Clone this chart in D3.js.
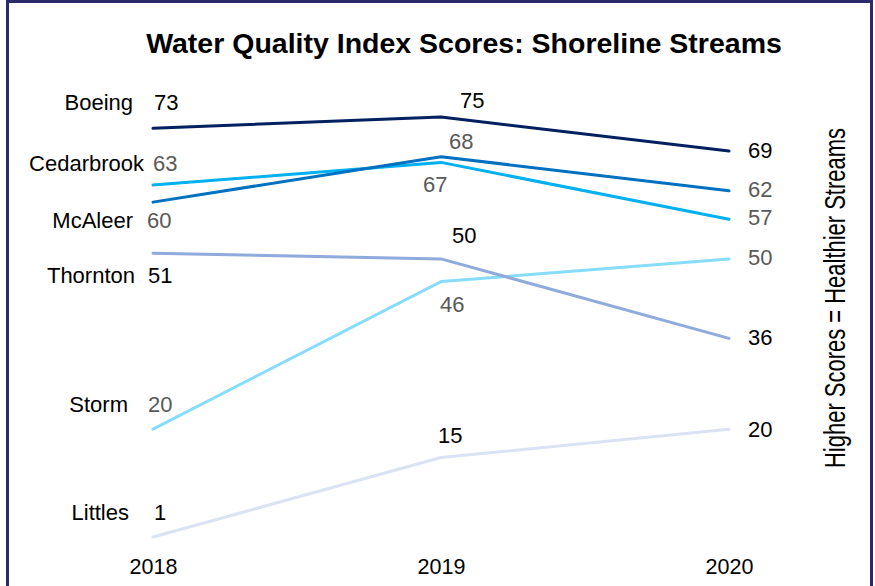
<!DOCTYPE html>
<html>
<head>
<meta charset="utf-8">
<script src="https://cdn.jsdelivr.net/npm/d3@7"></script>
<style>
  body { margin: 0; background: #fff; }
  svg text { font-family: "Liberation Sans", Arial, sans-serif; }
</style>
</head>
<body>
<div id="chart"></div>
<script>
// chart data
var years = ["2018", "2019", "2020"];
var streams = ["Boeing", "Cedarbrook", "McAleer", "Thornton", "Storm", "Littles"];
var boeing = [73, 75, 69];
var cedarbrook = [63, 67, 57];
var mcaleer = [60, 68, 62];
var thornton = [51, 50, 36];
var storm = [20, 46, 50];
var littles = [1, 15, 20];
var seriesValues = [boeing, cedarbrook, mcaleer, thornton, storm, littles];

// styling / label layout (offsets of value labels from their point)
var colors = ["#002060", "#00b0f0", "#0070c0", "#8faadc", "#87dcfc", "#dae3f3"];
var labelColors = [
  ["#000", "#000", "#000"],
  ["#595959", "#595959", "#595959"],
  ["#595959", "#595959", "#595959"],
  ["#000", "#000", "#000"],
  ["#595959", "#595959", "#595959"],
  ["#000", "#000", "#000"]
];
var labelOffsets = [
  [[1, -18], [19, -9], [19, 7]],
  [[0, -14], [-18, 30], [19, 6]],
  [[-6, 26], [8, -8], [19, 6]],
  [[-5, 30], [11, -16], [19, 7]],
  [[-5, -17], [-1, 30], [19, 6]],
  [[1, -17], [-3, -15], [19, 8]]
];
// right edge of each stream name
var nameEnds = [133, 144, 133, 135, 128, 129];

var svgWidth = 875;
var svgHeight = 586;

var svg = d3.select("#chart")
    .append("svg")
    .attr("width", svgWidth)
    .attr("height", svgHeight);

// frame
svg.append("rect")
    .attr("x", 7.5)
    .attr("y", 1.5)
    .attr("width", 864)
    .attr("height", 620)
    .attr("fill", "none")
    .attr("stroke", "#2b2a6c")
    .attr("stroke-width", 3);

// title
svg.append("text")
    .attr("x", 464)
    .attr("y", 53)
    .attr("text-anchor", "middle")
    .attr("font-size", "28.5px")
    .attr("font-weight", "bold")
    .attr("fill", "#000")
    .text("Water Quality Index Scores: Shoreline Streams");

// scales
var xScale = d3.scalePoint()
    .domain(years)
    .range([153, 729]);

var yScale = d3.scaleLinear()
    .domain([0, 80])
    .range([542.7, 88.6]);

// x axis (labels only)
var xAxis = d3.axisBottom(xScale).tickSize(0).tickPadding(0);
var xAxisG = svg.append("g")
    .attr("transform", "translate(0, 558)")
    .call(xAxis);
xAxisG.select(".domain").remove();
xAxisG.selectAll("text")
    .attr("font-size", "21.5px")
    .attr("font-family", "Liberation Sans, Arial, sans-serif")
    .attr("fill", "#000")
    .attr("dy", "0.76em");

var line = d3.line()
    .x(function(d, i) { return xScale(years[i]); })
    .y(function(d) { return yScale(d); });

// lines, drawn bottom-up so darker ones sit on top
var order = [5, 4, 3, 1, 2, 0];
order.forEach(function(s) {
    svg.append("path")
        .datum(seriesValues[s])
        .attr("d", line)
        .attr("fill", "none")
        .attr("stroke", colors[s])
        .attr("stroke-width", 3)
        .attr("stroke-linecap", "round")
        .attr("stroke-linejoin", "round");
});

// value labels
seriesValues.forEach(function(vals, s) {
    svg.selectAll(null)
        .data(vals)
        .enter()
        .append("text")
        .attr("x", function(d, i) { return xScale(years[i]) + labelOffsets[s][i][0]; })
        .attr("y", function(d, i) { return yScale(d) + labelOffsets[s][i][1]; })
        .attr("font-size", "22px")
        .attr("fill", function(d, i) { return labelColors[s][i]; })
        .text(function(d) { return d; });

    // stream name to the left of first value
    svg.append("text")
        .attr("x", nameEnds[s])
        .attr("y", yScale(vals[0]) + labelOffsets[s][0][1])
        .attr("text-anchor", "end")
        .attr("font-size", "22px")
        .attr("fill", "#000")
        .text(streams[s]);
});

// right side axis title
svg.append("text")
    .attr("transform", "translate(845, 298) rotate(-90)")
    .attr("text-anchor", "middle")
    .attr("font-size", "29px")
    .attr("textLength", 340)
    .attr("lengthAdjust", "spacingAndGlyphs")
    .attr("fill", "#000")
    .text("Higher Scores = Healthier Streams");
</script>
</body>
</html>
